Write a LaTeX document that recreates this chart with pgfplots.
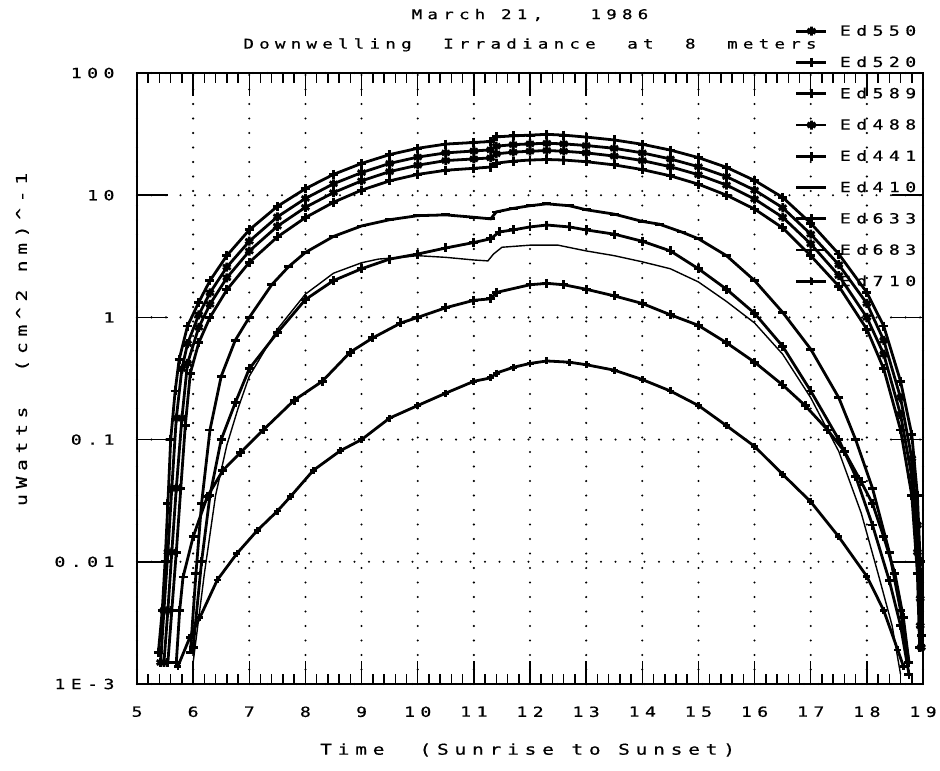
\documentclass[border=0pt]{standalone}
\usepackage{fontspec}
\setmainfont{DejaVu Sans Mono}[LetterSpace=39, FakeStretch=1.3, FakeBold=0.6]
\usepackage{pgfplots}
\pgfplotsset{compat=1.18}
\newcommand{\tfont}{\fontsize{13.5}{13.5}\selectfont}
\newcommand{\lfont}{\fontsize{14}{14}\selectfont}
\newcommand{\afont}{\fontsize{15}{15}\selectfont}
\begin{document}
\begin{tikzpicture}[x=1bp,y=1bp]
\path[use as bounding box] (-137,-87) rectangle (803,684);
\begin{axis}[
  at={(0,0)}, anchor=south west,
  scale only axis, width=786bp, height=611bp,
  clip mode=individual,
  xmin=5, xmax=19, ymode=log, ymin=1e-3, ymax=100,
  xtick={5,...,19}, minor x tick num=4,
  ytick={0.001,0.01,0.1,1,10,100},
  yticklabels={1E-3,0.01,0.1,1,10,100},
  yminorticks=false,
  /pgf/number format/assume math mode=true,
  axis line style={line width=1.7bp},
  tick style={black, line width=1.5bp},
  xtick style={/pgfplots/major tick length=23bp, /pgfplots/minor tick length=10bp},
  ytick style={/pgfplots/major tick length=31bp},
  grid=major,
  major grid style={black, line width=2.3bp, line cap=round, dash pattern=on 0bp off 14.5bp},
  ticklabel style={font=\lfont},
  xticklabel style={yshift=-19bp},
  yticklabel style={xshift=-19bp},
  xlabel={Time~~(Sunrise~to~Sunset)},
  ylabel={uWatts~~(cm\textasciicircum 2~nm)\textasciicircum -1},
  every axis x label/.style={at={(axis description cs:0.497,-0.108)}, anchor=center, font=\afont},
  every axis y label/.style={at={(axis description cs:-0.146,0.564)}, anchor=center, rotate=90, font=\afont},
  legend style={draw=none, fill=none, at={(axis description cs:0.837,1.082)}, anchor=north west,
    font=\lfont, row sep=15.2bp, column sep=10bp, inner sep=0pt,
    nodes={inner sep=2bp}},
  legend cell align=left,
  legend image code/.code={\draw[#1, mark repeat=2, mark phase=2] plot coordinates {(0bp,0bp) (15bp,0bp) (30bp,0bp)};},
  every axis plot/.append style={black, line width=2.8bp, mark size=4.5bp},
  every mark/.append style={line width=1.3bp, solid},
]
\node[font=\tfont, anchor=center] at (axis description cs:0.5,1.095) {March~21,~~~1986};
\node[font=\tfont, anchor=center] at (axis description cs:0.5,1.046) {Downwelling~~Irradiance~~at~~8~~meters};

% Ed550
\addplot[mark=asterisk] table {
5.48 0.0015
5.55 0.004
5.62 0.012
5.7 0.04
5.8 0.15
5.9 0.42
6.1 0.83
6.3 1.28
6.6 2.11
7.0 3.49
7.5 5.57
8.0 7.96
8.5 10.5
9.0 13.1
9.5 15.6
10.0 17.6
10.5 19.2
11.0 19.8
11.3 20.2
11.4 21.8
11.7 22.5
12.0 22.9
12.3 23.2
12.6 22.9
13.0 22.2
13.5 20.9
14.0 19.2
14.5 17.1
15.0 14.7
15.5 12.1
16.0 9.3
16.5 6.6
17.0 4.0
17.5 2.2
18.0 1.0
18.3 0.5
18.6 0.16
18.8 0.05
18.9 0.012
18.95 0.003
};
\addlegendentry{Ed550}

% Ed520
\addplot[mark=+] table {
5.38 0.0018
5.45 0.004
5.5 0.01
5.55 0.03
5.6 0.1
5.68 0.25
5.75 0.45
5.9 0.85
6.1 1.33
6.3 2.0
6.6 3.2
7.0 5.2
7.5 8.1
8.0 11.3
8.5 14.8
9.0 18.2
9.5 21.5
10.0 24.2
10.5 26.2
11.0 27.0
11.3 27.5
11.4 30.0
11.7 30.6
12.0 31.0
12.3 31.5
12.6 31.0
13.0 29.9
13.5 28.3
14.0 26.1
14.5 23.4
15.0 20.3
15.5 16.9
16.0 13.2
16.5 9.6
17.0 5.9
17.5 3.3
18.0 1.6
18.3 0.85
18.6 0.3
18.8 0.11
18.9 0.035
18.95 0.01
18.98 0.0025
};
\addlegendentry{Ed520}

% Ed589
\addplot[mark=+] table {
6.0 0.002
6.15 0.01
6.3 0.035
6.5 0.1
6.75 0.2
7.0 0.38
7.5 0.75
8.0 1.4
8.5 2.0
9.0 2.5
9.5 3.0
10.0 3.3
10.5 3.7
11.0 4.1
11.3 4.4
11.45 5.0
11.7 5.2
12.0 5.5
12.3 5.7
12.7 5.5
13.0 5.2
13.5 4.8
14.0 4.2
14.5 3.5
15.0 2.5
15.5 1.7
16.0 1.08
16.5 0.58
17.0 0.25
17.5 0.1
17.8 0.05
18.1 0.02
18.4 0.007
18.6 0.003
18.75 0.0012
};
\addlegendentry{Ed589}

% Ed488
\addplot[mark=asterisk] table {
5.42 0.0015
5.48 0.004
5.55 0.012
5.62 0.04
5.7 0.15
5.8 0.38
5.9 0.61
6.1 1.05
6.3 1.59
6.6 2.58
7.0 4.2
7.5 6.65
8.0 9.4
8.5 12.4
9.0 15.3
9.5 18.2
10.0 20.5
10.5 22.2
11.0 23.0
11.3 23.5
11.4 25.2
11.7 25.9
12.0 26.3
12.3 26.6
12.6 26.3
13.0 25.5
13.5 24.2
14.0 22.2
14.5 19.8
15.0 17.1
15.5 14.2
16.0 11.0
16.5 7.9
17.0 4.8
17.5 2.7
18.0 1.3
18.3 0.65
18.6 0.22
18.8 0.07
18.9 0.02
18.95 0.005
18.97 0.002
};
\addlegendentry{Ed488}

% Ed441
\addplot[mark=+] table {
5.55 0.0015
5.62 0.004
5.7 0.012
5.78 0.04
5.86 0.13
5.95 0.35
6.1 0.62
6.3 1.0
6.6 1.68
7.0 2.82
7.5 4.55
8.0 6.56
8.5 8.75
9.0 11.0
9.5 13.1
10.0 14.8
10.5 16.0
11.0 16.6
11.3 17.0
11.4 18.3
11.7 19.0
12.0 19.4
12.3 19.6
12.6 19.4
13.0 18.8
13.5 17.7
14.0 16.2
14.5 14.4
15.0 12.3
15.5 10.0
16.0 7.7
16.5 5.4
17.0 3.2
17.5 1.8
18.0 0.8
18.3 0.38
18.6 0.12
18.8 0.035
18.9 0.008
18.94 0.002
};
\addlegendentry{Ed441}

% Ed410
\addplot[mark=-] table {
5.95 0.0018
6.05 0.008
6.15 0.03
6.3 0.12
6.5 0.33
6.75 0.65
7.0 1.0
7.4 1.85
7.7 2.6
8.0 3.4
8.5 4.6
9.0 5.6
9.5 6.3
10.0 6.8
10.5 6.9
11.0 6.6
11.3 6.4
11.4 7.3
11.7 7.8
12.0 8.2
12.3 8.5
12.7 8.2
13.0 7.6
13.5 7.0
14.0 6.1
14.3 5.8
14.7 5.0
15.0 4.4
15.5 3.2
16.0 2.0
16.5 1.1
17.0 0.55
17.5 0.22
17.8 0.1
18.1 0.04
18.4 0.012
18.6 0.004
18.75 0.0015
};
\addlegendentry{Ed410}

% Ed633
\addplot[mark=+] table {
5.7 0.0015
5.76 0.004
5.82 0.0075
6.0 0.016
6.25 0.034
6.53 0.056
6.84 0.078
7.25 0.12
7.8 0.21
8.3 0.3
8.8 0.52
9.2 0.68
9.7 0.9
10.0 1.0
10.5 1.2
11.0 1.38
11.3 1.42
11.4 1.6
12.0 1.85
12.3 1.9
12.6 1.85
13.0 1.7
13.5 1.5
14.0 1.3
14.5 1.05
15.0 0.86
15.5 0.62
16.0 0.43
16.5 0.28
16.9 0.19
17.3 0.12
17.6 0.08
17.9 0.045
18.1 0.03
18.3 0.016
18.5 0.008
18.65 0.0035
18.75 0.0015
};
\addlegendentry{Ed633}

% Ed683
\addplot[line width=1.4bp] table {
6.0 0.0015
6.2 0.008
6.4 0.035
6.6 0.09
6.8 0.18
7.0 0.33
7.5 0.8
8.0 1.55
8.5 2.3
9.0 2.8
9.3 3.0
9.7 3.1
10.0 3.2
10.5 3.1
11.0 2.95
11.25 2.9
11.35 3.3
11.5 3.75
12.0 3.9
12.5 3.9
13.0 3.5
13.5 3.2
14.0 2.85
14.5 2.5
15.0 1.95
15.5 1.35
16.0 0.9
16.5 0.5
17.0 0.22
17.5 0.08
17.9 0.025
18.2 0.008
18.45 0.003
18.6 0.0012
};
\addlegendentry{Ed683}

% Ed710
\addplot[mark=+, mark size=3.5bp] table {
5.73 0.0014
5.94 0.0024
6.12 0.0035
6.43 0.0071
6.78 0.0117
7.14 0.018
7.5 0.026
7.73 0.034
8.14 0.056
8.62 0.081
9.0 0.10
9.5 0.15
10.0 0.19
10.5 0.24
11.0 0.30
11.3 0.32
11.4 0.35
11.7 0.39
12.0 0.42
12.3 0.44
12.7 0.43
13.0 0.41
13.5 0.37
14.0 0.31
14.5 0.25
15.0 0.19
15.5 0.13
16.0 0.088
16.5 0.052
17.0 0.031
17.5 0.016
18.0 0.0076
18.3 0.004
18.55 0.0019
18.65 0.0014
};
\addlegendentry{Ed710}
\end{axis}
\end{tikzpicture}
\end{document}
